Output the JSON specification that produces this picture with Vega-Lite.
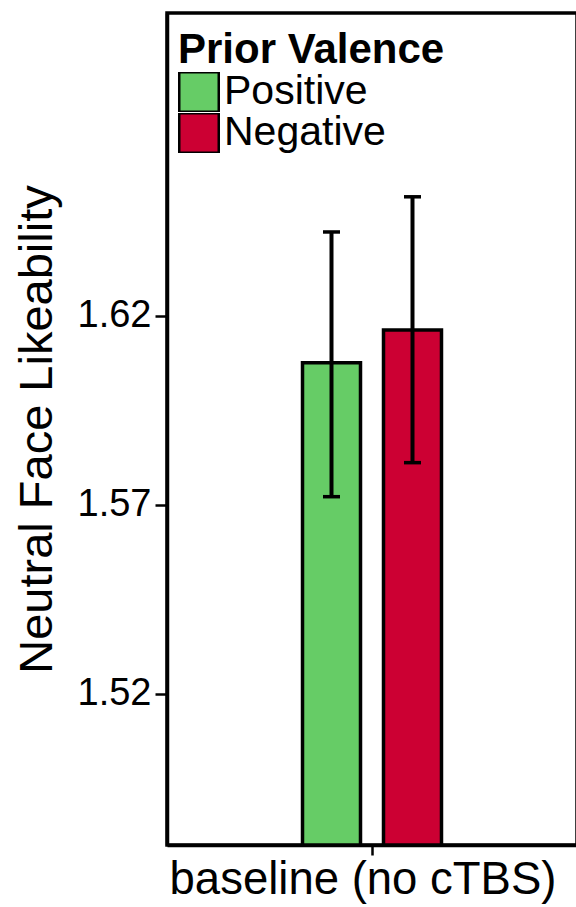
{
  "$schema": "https://vega.github.io/schema/vega-lite/v6.json",
  "autosize": {"type": "none"},
  "padding": {"left": 167, "top": 13, "right": 0, "bottom": 62},
  "width": 410,
  "height": 832,
  "background": "white",
  "config": {
    "font": "Liberation Sans",
    "view": {"stroke": "black", "strokeWidth": 3.5},
    "axis": {"grid": false, "domainColor": "black", "domainWidth": 3.5, "tickColor": "black", "tickWidth": 2.5, "labelColor": "black", "titleColor": "black", "labelFont": "Liberation Sans", "titleFont": "Liberation Sans", "labelLimit": 600}
  },
  "data": {
    "values": [
      {"condition": "baseline (no cTBS)", "valence": "Positive", "mean": 1.6075, "lo": 1.5721, "hi": 1.6421},
      {"condition": "baseline (no cTBS)", "valence": "Negative", "mean": 1.6162, "lo": 1.5811, "hi": 1.6514}
    ]
  },
  "encoding": {
    "x": {
      "field": "condition", "type": "nominal",
      "scale": {"paddingInner": 0, "paddingOuter": 0.975},
      "axis": {"title": null, "labelAngle": 0, "labelFontSize": 45.5, "labelPadding": 2, "labelOffset": -9, "tickSize": 10, "labelLimit": 600}
    },
    "xOffset": {
      "field": "valence", "type": "nominal", "sort": ["Positive", "Negative"],
      "scale": {"paddingInner": 0.284, "paddingOuter": 0}
    }
  },
  "layer": [
    {
      "mark": {"type": "bar", "stroke": "black", "strokeWidth": 3.5},
      "encoding": {
        "y": {
          "field": "mean", "type": "quantitative",
          "scale": {"domain": [1.48, 1.70], "zero": false, "nice": false},
          "axis": {
            "title": "Neutral Face Likeability",
            "values": [1.52, 1.57, 1.62],
            "format": ".2f",
            "labelFontSize": 38,
            "labelPadding": 4,
            "tickSize": 12,
            "titleFontSize": 47,
            "titleFontWeight": "normal",
            "titleX": -116,
            "titleY": 416,
            "titleAngle": -90,
            "titleAlign": "center",
            "titleBaseline": "alphabetic"
          }
        },
        "y2": {"datum": 1.48},
        "fill": {
          "field": "valence", "type": "nominal",
          "scale": {"domain": ["Positive", "Negative"], "range": ["#66CC66", "#CC0033"]},
          "legend": {
            "title": "Prior Valence",
            "orient": "none",
            "legendX": 11,
            "legendY": 17,
            "padding": 0,
            "titleFontSize": 42,
            "titleFontWeight": "bold",
            "titleColor": "black",
            "titlePadding": 0,
            "titleLimit": 600,
            "labelFontSize": 41,
            "labelColor": "black",
            "labelOffset": 4,
            "labelLimit": 600,
            "symbolType": "square",
            "symbolSize": 1560,
            "symbolStrokeColor": "black",
            "symbolStrokeWidth": 2.5,
            "symbolOpacity": 1,
            "clipHeight": 40,
            "rowPadding": 0
          }
        }
      }
    },
    {
      "mark": {"type": "rule", "color": "black", "strokeWidth": 4},
      "encoding": {
        "y": {"field": "lo", "type": "quantitative"},
        "y2": {"field": "hi"}
      }
    },
    {
      "mark": {"type": "tick", "color": "black", "thickness": 3.5, "size": 17, "opacity": 1},
      "encoding": {"y": {"field": "lo", "type": "quantitative"}}
    },
    {
      "mark": {"type": "tick", "color": "black", "thickness": 3.5, "size": 17, "opacity": 1},
      "encoding": {"y": {"field": "hi", "type": "quantitative"}}
    }
  ]
}
